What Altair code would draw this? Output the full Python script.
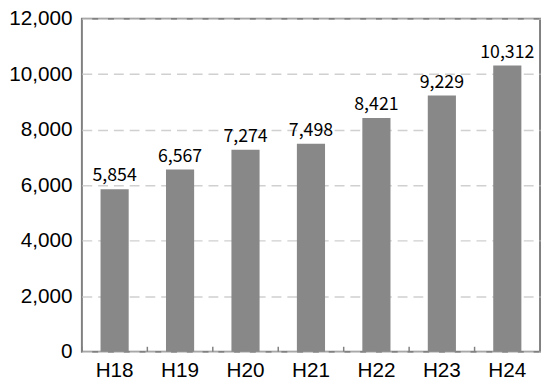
import altair as alt
import pandas as pd

years = ["H18", "H19", "H20", "H21", "H22", "H23", "H24"]
values = [5854, 6567, 7274, 7498, 8421, 9229, 10312]

df = pd.DataFrame({"year": years, "value": values})
AXFONT = "Liberation Sans"
FONT = "Noto Sans CJK JP"

xscale = alt.Scale(domain=years, paddingInner=0, paddingOuter=0)

base = alt.Chart(df)

bars = base.mark_bar(color="#888888", width=alt.RelativeBandSize(0.43)).encode(
    x=alt.X("year:N", scale=xscale, sort=years,
            axis=alt.Axis(title=None, labelAngle=0, labelFontSize=21, labelFont=AXFONT,
                          labelColor="black", ticks=False, domain=False, labelPadding=8)),
    y=alt.Y("value:Q", scale=alt.Scale(domain=[0, 12000], nice=False),
            axis=alt.Axis(title=None, values=[0, 2000, 4000, 6000, 8000, 10000, 12000],
                          format=",.0f", labelFontSize=21, labelFont=AXFONT, labelColor="black",
                          ticks=False, domain=False, labelPadding=10,
                          grid=True, gridColor="#d0d0d0", gridDash=[10, 6], gridWidth=1.5)),
)

labels = base.mark_text(baseline="bottom", dy=-4, fontSize=18, font=FONT, color="black").encode(
    x=alt.X("year:N", scale=xscale, sort=years),
    y="value:Q",
    text=alt.Text("value:Q", format=",.0f"),
)

ticks = base.mark_rule(color="#808080", strokeWidth=1.5).encode(
    x=alt.X("year:N", scale=xscale, sort=years, bandPosition=0),
    y=alt.value(338),
    y2=alt.value(333),
)

chart = alt.layer(bars, ticks, labels).properties(
    width=465, height=338,
    autosize=alt.AutoSizeParams(type="none"),
    padding={"left": 75, "top": 8, "right": 2, "bottom": 35},
).configure_view(stroke="#808080", strokeWidth=2)

chart.save("out.html", embed_options={"renderer": "svg", "actions": False})
